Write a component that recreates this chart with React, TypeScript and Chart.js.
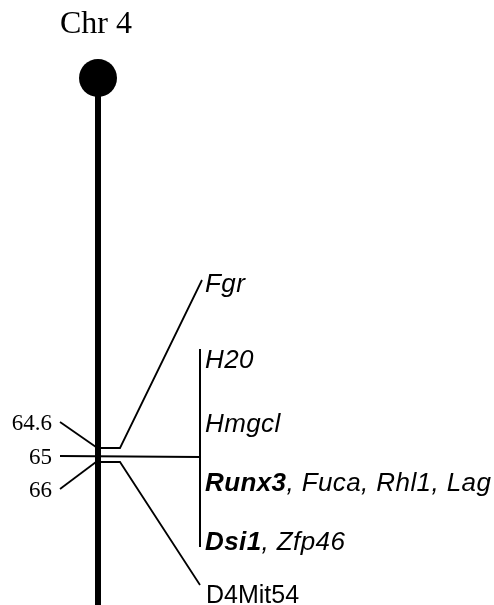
import { useEffect, useRef } from 'react';
import { Chart, registerables } from 'chart.js';

Chart.register(...registerables);

// Diagram coordinate space (schematic map units: x across, y down the chromosome)
const title = 'Chr 4';
const chromosomeTop = 78;
const chromosomeBottom = 605;
const chromosomeX = 98;

// Map positions (cM) and where their callouts sit
const positionLabels = ['64.6', '65', '66'];
const positionLabelY = [422, 456, 489];
const positionTargetY = [447, 457, 462];
const positionTargetX = [96, 200, 96];

// Loci groups
const fgrPath = [
  { x: 100, y: 448 },
  { x: 120, y: 448 },
  { x: 202, y: 280 },
];
const mitPath = [
  { x: 100, y: 462 },
  { x: 120, y: 462 },
  { x: 200, y: 585 },
];
const bracketPath = [
  { x: 200, y: 349 },
  { x: 200, y: 547 },
];

type Seg = { t: string; b?: boolean; i?: boolean };
const lociLabels: Seg[][] = [
  [{ t: 'Fgr', i: true }],
  [{ t: 'H20', i: true }],
  [{ t: 'Hmgcl', i: true }],
  [
    { t: 'Runx3', b: true, i: true },
    { t: ', Fuca, Rhl1, Lag', i: true },
  ],
  [
    { t: 'Dsi1', b: true, i: true },
    { t: ', Zfp46', i: true },
  ],
  [{ t: 'D4Mit54' }],
];
const lociLabelX = [205, 205, 205, 205, 205, 206];
const lociLabelY = [292, 368, 432, 491, 550, 603];

const labelPlugin = {
  id: 'mapLabels',
  afterDatasetsDraw(chart: any) {
    const { ctx, scales } = chart;
    const sx = scales.x;
    const sy = scales.y;
    ctx.save();
    ctx.fillStyle = '#000';
    ctx.textBaseline = 'alphabetic';

    // title
    ctx.font = '32px "Liberation Serif"';
    ctx.textAlign = 'center';
    ctx.fillText(title, sx.getPixelForValue(96), sy.getPixelForValue(33));

    // position labels
    ctx.font = '23px "Liberation Serif"';
    ctx.textAlign = 'right';
    positionLabels.forEach((lab, k) => {
      ctx.fillText(lab, sx.getPixelForValue(52), sy.getPixelForValue(positionLabelY[k] + 8));
    });

    // loci labels
    ctx.textAlign = 'left';
    lociLabels.forEach((segs, k) => {
      let px = sx.getPixelForValue(lociLabelX[k]);
      const py = sy.getPixelForValue(lociLabelY[k]);
      const italic = k !== 5;
      (ctx as any).letterSpacing = italic ? '0.4px' : '0px';
      segs.forEach((s) => {
        ctx.font = `${s.i ? 'italic ' : ''}${s.b ? 'bold ' : ''}${italic ? 26 : 25}px "Liberation Sans"`;
        ctx.fillText(s.t, px, py);
        px += ctx.measureText(s.t).width;
      });
    });
    (ctx as any).letterSpacing = '0px';
    ctx.restore();
  },
};

export default function App() {
  const ref = useRef<HTMLCanvasElement | null>(null);

  useEffect(() => {
    document.body.style.margin = '0';
    const canvas = ref.current;
    if (!canvas) return;

    const line = (data: { x: number; y: number }[], w: number) => ({
      type: 'line' as const,
      data,
      showLine: true,
      borderColor: '#000',
      borderWidth: w,
      pointRadius: 0,
      fill: false,
      tension: 0,
      clip: false,
      borderJoinStyle: 'miter' as const,
    });

    const datasets: any[] = [
      line(
        [
          { x: chromosomeX, y: chromosomeTop },
          { x: chromosomeX, y: chromosomeBottom },
        ],
        6
      ),
      {
        type: 'scatter',
        data: [{ x: chromosomeX, y: chromosomeTop }],
        pointRadius: 19,
        pointBackgroundColor: '#000',
        pointBorderColor: '#000',
        borderWidth: 0,
        clip: false,
      },
      ...positionLabels.map((_, k) =>
        line(
          [
            { x: 60, y: positionLabelY[k] },
            { x: positionTargetX[k], y: positionTargetY[k] },
          ],
          k === 1 ? 2.2 : 1.8
        )
      ),
      line(fgrPath, 1.8),
      line(mitPath, 1.8),
      line(bracketPath, 2),
    ];

    const chart = new Chart(canvas, {
      type: 'scatter',
      data: { datasets },
      options: {
        animation: false,
        responsive: false,
        events: [],
        layout: { padding: 0, autoPadding: false },
        plugins: { legend: { display: false }, tooltip: { enabled: false } },
        scales: {
          x: { type: 'linear', min: 0, max: 494, display: false },
          y: { type: 'linear', min: 0, max: 605, reverse: true, display: false },
        },
      },
      plugins: [labelPlugin],
    });
    return () => chart.destroy();
  }, []);

  return (
    <div style={{ width: 494, height: 605, overflow: 'hidden', background: '#fff' }}>
      <canvas ref={ref} width={494} height={605} style={{ display: 'block' }} />
    </div>
  );
}
